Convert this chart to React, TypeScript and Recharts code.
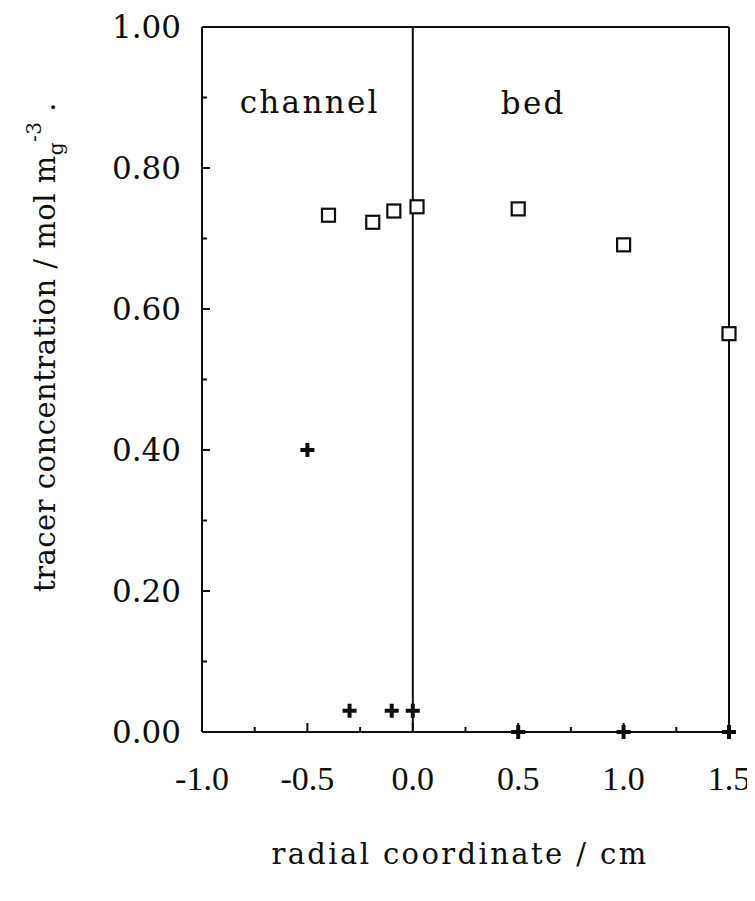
import { ScatterChart, Scatter, XAxis, YAxis, ReferenceLine, Label } from "recharts"

// tick values
const xTicks = [-1, -0.75, -0.5, -0.25, 0, 0.25, 0.5, 0.75, 1, 1.25, 1.5]
const yTicks = [0, 0.1, 0.2, 0.3, 0.4, 0.5, 0.6, 0.7, 0.8, 0.9, 1]

// open squares
const squareX = [-0.4, -0.19, -0.09, 0.02, 0.5, 1.0, 1.5]
const squareY = [0.733, 0.723, 0.739, 0.745, 0.742, 0.691, 0.565]

// crosses
const crossX = [-0.5, -0.3, -0.1, 0.0, 0.5, 1.0, 1.5]
const crossY = [0.4, 0.03, 0.03, 0.03, 0.0, 0.0, 0.0]

const squares = squareX.map((x, i) => ({ x, y: squareY[i] }))
const crosses = crossX.map((x, i) => ({ x, y: crossY[i] }))

const ink = "#0d0d0d"
const serif = "DejaVu Serif"

function XTick(props: any) {
  const { x, y, payload } = props
  const v = payload.value
  const major = Math.abs(v * 2 - Math.round(v * 2)) < 1e-6
  return (
    <g>
      <line x1={x} y1={y} x2={x} y2={y - (major ? 9 : 5)} stroke={ink} strokeWidth={2} />
      {major && (
        <text x={x} y={y + 58} textAnchor="middle" fontFamily="Liberation Serif" fontSize={34} fill={ink}>
          {v.toFixed(1)}
        </text>
      )}
    </g>
  )
}

function YTick(props: any) {
  const { x, y, payload } = props
  const v = payload.value
  const major = Math.abs(v * 5 - Math.round(v * 5)) < 1e-6
  return (
    <g>
      <line x1={x} y1={y} x2={x + (major ? 8 : 5)} y2={y} stroke={ink} strokeWidth={2} />
      {major && (
        <text x={x - 21} y={y} dy="0.36em" textAnchor="end" fontFamily={serif} fontSize={31} fill={ink}>
          {v.toFixed(2)}
        </text>
      )}
    </g>
  )
}

const squareShape = (p: any) => (
  <rect x={p.cx - 6.5} y={p.cy - 6.5} width={13} height={13} fill="#fff" stroke={ink} strokeWidth={2.2} />
)

const crossShape = (p: any) => (
  <path d={`M${p.cx - 7},${p.cy}H${p.cx + 7}M${p.cx},${p.cy - 7}V${p.cy + 7}`} stroke={ink} strokeWidth={4} />
)

function XTitle(props: any) {
  const vb = props.viewBox || { x: 194, y: 724, width: 527 }
  return (
    <text x={vb.x + 258} y={vb.y + 132} textAnchor="middle" fontFamily={serif} fontSize={29} letterSpacing={2.4} fill={ink}>
      radial coordinate / cm
    </text>
  )
}

function YTitle(props: any) {
  const vb = props.viewBox || { x: 44, y: 19 }
  return (
    <text
      transform={`translate(${vb.x + 3},${vb.y + 320}) rotate(-90)`}
      textAnchor="middle"
      fontFamily={serif}
      fontSize={29}
      letterSpacing={0.5}
      fill={ink}
    >
      tracer concentration / mol m
      <tspan dy={8} fontSize={20}>g</tspan>
      <tspan dy={-22} fontSize={20}>-3</tspan>
      <tspan dy={14}> .</tspan>
    </text>
  )
}

function RegionLabels(props: any) {
  const vb = props.viewBox || { x: 405, y: 19 }
  return (
    <g fontFamily={serif} fontSize={31} fill={ink} letterSpacing={2.3}>
      <text x={vb.x - 33} y={vb.y + 86} textAnchor="end">channel</text>
      <text x={vb.x + 88} y={vb.y + 87} textAnchor="start">bed</text>
    </g>
  )
}

export default function App() {
  return (
    <ScatterChart width={747} height={885} margin={{ top: 19, right: 26, left: 44, bottom: 41 }}>
      <XAxis
        type="number"
        dataKey="x"
        domain={[-1, 1.5]}
        ticks={xTicks}
        interval={0}
        tick={<XTick />}
        tickLine={false}
        tickSize={0}
        tickMargin={0}
        height={120}
        axisLine={{ stroke: ink, strokeWidth: 2 }}
      >
        <Label content={<XTitle />} />
      </XAxis>
      <YAxis
        type="number"
        dataKey="y"
        domain={[0, 1]}
        ticks={yTicks}
        interval={0}
        tick={<YTick />}
        tickLine={false}
        tickSize={0}
        tickMargin={0}
        width={150}
        axisLine={{ stroke: ink, strokeWidth: 2 }}
      >
        <Label content={<YTitle />} />
      </YAxis>
      <ReferenceLine y={1} stroke={ink} strokeWidth={2} />
      <ReferenceLine x={1.5} stroke={ink} strokeWidth={2} />
      <ReferenceLine x={0} stroke={ink} strokeWidth={2}>
        <Label content={<RegionLabels />} />
      </ReferenceLine>
      <Scatter data={squares} shape={squareShape} isAnimationActive={false} />
      <Scatter data={crosses} shape={crossShape} isAnimationActive={false} />
    </ScatterChart>
  )
}
